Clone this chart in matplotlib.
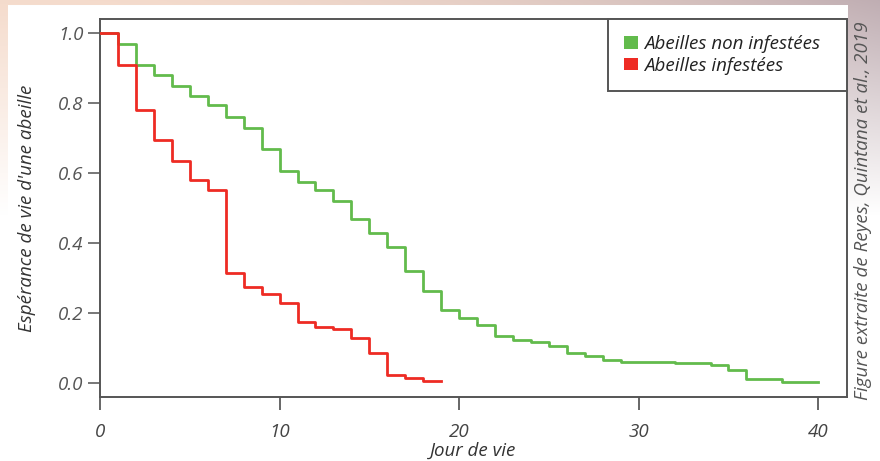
import matplotlib
matplotlib.use("Agg")
import matplotlib.pyplot as plt
import numpy as np
from matplotlib.patches import Patch

# Kaplan-Meier style survival
days_sains = [0, 1, 2, 3, 4, 5, 6, 7, 8, 9, 10, 11, 12, 13, 14, 15, 16, 17, 18, 19,
              20, 21, 22, 23, 24, 25, 26, 27, 28, 29, 32, 34, 35, 36, 38, 40]
surv_sains = [1.0, 0.97, 0.91, 0.88, 0.85, 0.82, 0.795, 0.76, 0.73, 0.67, 0.605, 0.575,
              0.55, 0.52, 0.47, 0.43, 0.39, 0.32, 0.263, 0.21, 0.185, 0.166, 0.135, 0.123,
              0.116, 0.106, 0.086, 0.076, 0.066, 0.061, 0.056, 0.051, 0.036, 0.011, 0.004, 0.004]

days_infest = [0, 1, 2, 3, 4, 5, 6, 7, 8, 9, 10, 11, 12, 13, 14, 15, 16, 17, 18, 19]
surv_infest = [1.0, 0.91, 0.78, 0.695, 0.635, 0.58, 0.55, 0.313, 0.275, 0.254, 0.229,
               0.175, 0.161, 0.153, 0.128, 0.087, 0.023, 0.015, 0.007, 0.007]

x_ticks = [0, 10, 20, 30, 40]
y_ticks = [0.0, 0.2, 0.4, 0.6, 0.8, 1.0]
labels = ["Abeilles non infestées", "Abeilles infestées"]

GREEN = "#62bb4c"
RED = "#ee2b24"
FS = 13.5

plt.rcParams["font.family"] = ["Open Sans", "DejaVu Sans"]
plt.rcParams["font.style"] = "italic"

fig = plt.figure(figsize=(8.8, 4.61), dpi=100)

# photo-like border behind the white panel
H, W = 461, 880
yy, xx = np.mgrid[0:H, 0:W]
fade = np.clip(1 - yy / 215.0, 0, 1)[..., None]
t = (xx / W)[..., None] ** 2
peach = np.array([0.96, 0.86, 0.80])
mauve = np.array([0.75, 0.68, 0.70])
edge = peach * (1 - t) + mauve * t
bg = np.ones((H, W, 3))
outside = ((yy < 6) | (xx < 8) | (xx >= 848))[..., None]
bg = np.where(outside, bg * (1 - fade) + edge * fade, bg)
bg_ax = fig.add_axes([0, 0, 1, 1])
bg_ax.imshow(bg, aspect="auto", interpolation="bilinear")
bg_ax.axis("off")

ax = fig.add_axes([100 / 880, 64 / 461, 747 / 880, 378 / 461])
ax.step(days_sains, surv_sains, where="post", color=GREEN, lw=2.0, zorder=3)
ax.step(days_infest, surv_infest, where="post", color=RED, lw=2.0, zorder=4)

ax.set_xlim(0, 41.6)
ax.set_ylim(-0.04, 1.04)
ax.set_xticks(x_ticks)
ax.set_xticklabels([str(v) for v in x_ticks])
ax.set_yticks(y_ticks)
ax.set_yticklabels([f"{v:.1f}" for v in y_ticks])
ax.tick_params(axis="x", length=9, width=1.4, color="#666666", pad=10,
               labelsize=FS, labelcolor="#444444")
ax.tick_params(axis="y", length=9, width=1.4, color="#777777", pad=3,
               labelsize=FS, labelcolor="#555555")
for side in ["left", "bottom", "top", "right"]:
    ax.spines[side].set_color("#555555")
    ax.spines[side].set_linewidth(1.4)

ax.set_xlabel("Jour de vie", fontsize=FS, color="#333333", labelpad=0.5)
ax.set_ylabel("Espérance de vie d'une abeille", fontsize=FS, color="#333333", labelpad=16)

handles = [Patch(facecolor=GREEN, edgecolor="none"), Patch(facecolor=RED, edgecolor="none")]
leg = ax.legend(handles, labels, loc="upper left", bbox_to_anchor=(0.680, 0, 0.320, 1.0),
                mode="expand", borderaxespad=0, fancybox=False, framealpha=1,
                prop={"family": "Open Sans", "style": "italic", "size": FS},
                handlelength=0.75, handleheight=0.65, handletextpad=0.35,
                labelspacing=0.2, borderpad=0.85)
leg.get_frame().set_edgecolor("#555555")
leg.get_frame().set_linewidth(1.4)
for txt in leg.get_texts():
    txt.set_color("#222222")

fig.text(863 / 880, 0.542, "Figure extraite de Reyes, Quintana et al., 2019",
         rotation=90, ha="center", va="center", fontsize=FS, color="#555555")

fig.savefig("out.png", dpi=100)
